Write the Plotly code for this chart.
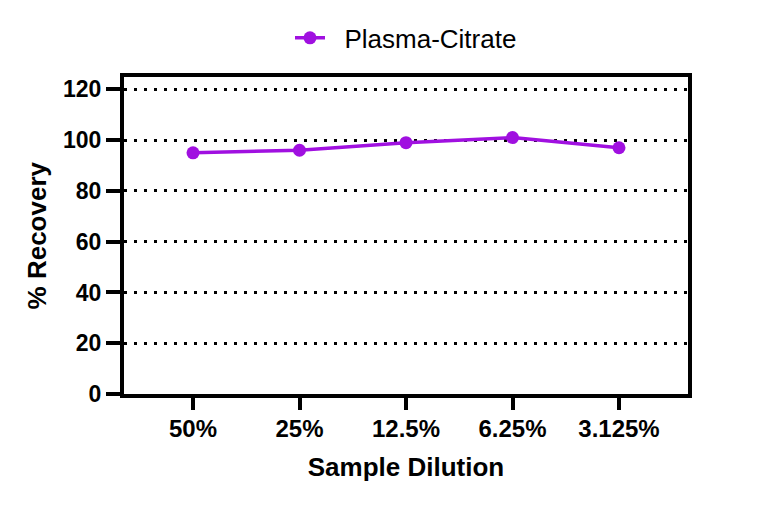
import plotly.graph_objects as go

categories = ["50%", "25%", "12.5%", "6.25%", "3.125%"]
recovery = [95, 96, 99, 101, 97]
y_ticks = [0, 20, 40, 60, 80, 100, 120]

color = "#A010E0"
FONT = "Liberation Sans, Arial"
fig = go.Figure()
fig.add_trace(go.Scatter(
    x=list(range(len(categories))), y=recovery, mode="lines+markers",
    name="\u00a0\u00a0Plasma-Citrate",
    line=dict(color=color, width=3.5),
    marker=dict(color=color, size=13),
))

fig.update_layout(
    width=766, height=507,
    margin=dict(l=116, r=86, t=68, b=121),
    paper_bgcolor="white", plot_bgcolor="white",
    showlegend=True,
    legend=dict(orientation="h", xref="paper", x=0.5, xanchor="center",
                yref="container", y=0.941, yanchor="middle",
                font=dict(family=FONT, size=26, color="black")),
    xaxis=dict(
        range=[-0.648, 4.648],
        tickmode="array", tickvals=list(range(len(categories))), ticktext=[f"<b>{c}</b>" for c in categories],
        ticks="outside", ticklen=12, tickwidth=4, tickcolor="black",
        ticklabelstandoff=-2,
        showline=True, linewidth=4, linecolor="black", mirror=True,
        showgrid=False, zeroline=False,
        tickfont=dict(family=FONT, size=24, color="black"),
        title=dict(text="<b>Sample Dilution</b>", font=dict(family=FONT, size=26, color="black"), standoff=18),
    ),
    yaxis=dict(
        range=[0, 124.7],
        tickmode="array", tickvals=y_ticks, ticktext=[f"<b>{v}</b>" for v in y_ticks],
        ticks="outside", ticklen=14, tickwidth=4, tickcolor="black",
        showline=True, linewidth=4, linecolor="black", mirror=True,
        showgrid=True, gridcolor="black", gridwidth=3, griddash="3px,7px",
        zeroline=False,
        tickfont=dict(family=FONT, size=23, color="black"),
        title=dict(text="<b>% Recovery</b>", font=dict(family=FONT, size=26, color="black"), standoff=10),
    ),
)
fig.write_html("out.html")
